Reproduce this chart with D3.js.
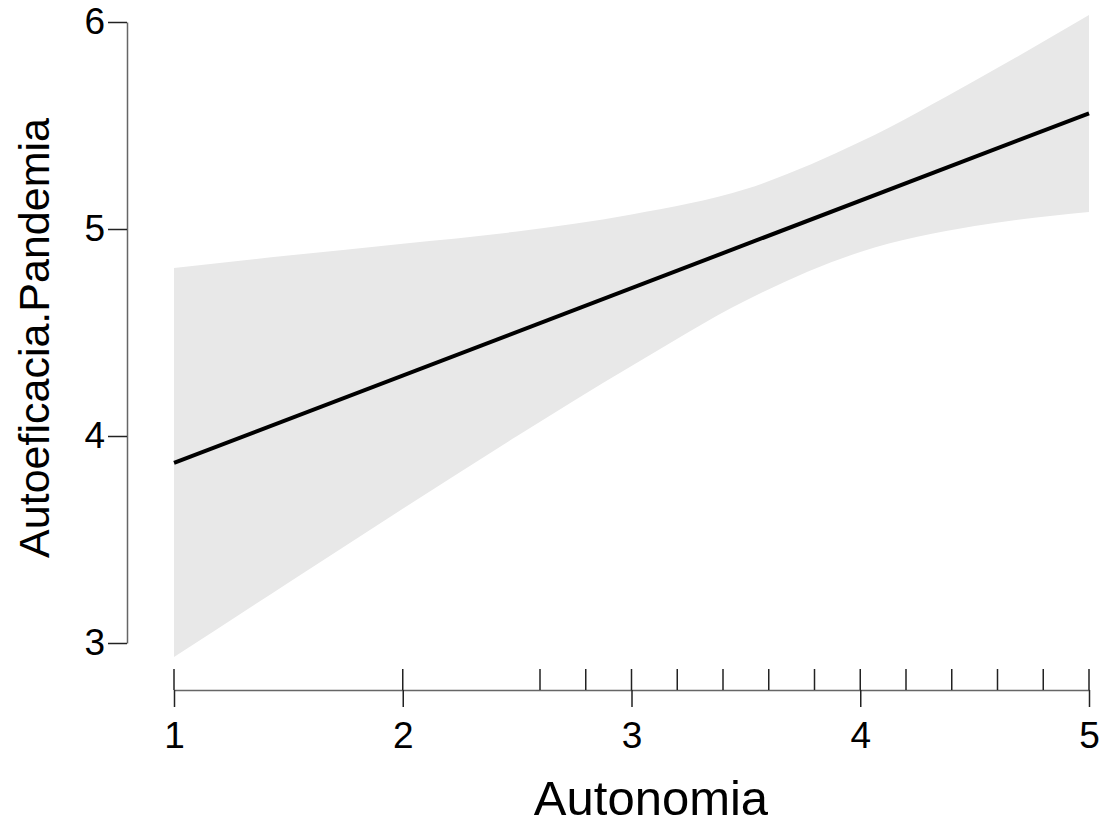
<!DOCTYPE html>
<html>
<head>
<meta charset="utf-8">
<script src="https://cdn.jsdelivr.net/npm/d3@7"></script>
<style>
  html, body { margin: 0; padding: 0; background: #ffffff; }
  svg { display: block; }
</style>
</head>
<body>
<svg id="chart" width="1104" height="826"></svg>
<script>
// ---- data ----
const bandX     = [1, 1.5, 2, 2.5, 3, 3.5, 4, 4.5, 5];
const bandUpper = [4.812, 4.872, 4.929, 4.988, 5.070, 5.193, 5.421, 5.716, 6.034];
const bandLower = [2.932, 3.291, 3.649, 4.000, 4.338, 4.655, 4.889, 5.014, 5.082];
const fitX = [1, 5];
const fitY = [3.870, 5.559];
const rugX = [1, 2, 2.6, 2.8, 3, 3.2, 3.4, 3.6, 3.8, 4, 4.2, 4.4, 4.6, 4.8, 5];
const xTicks = [1, 2, 3, 4, 5];
const yTicks = [3, 4, 5, 6];
const xLabel = "Autonomia";
const yLabel = "Autoeficacia.Pandemia";

const svg = d3.select("#chart");
const font = "'Liberation Sans', Arial, sans-serif";

const x = d3.scaleLinear().domain([1, 5]).range([174, 1089]);
const y = d3.scaleLinear().domain([3, 6]).range([643, 22]);
const axisY = 690;

// confidence band
const band = bandX.map((v, i) => ({ x: v, lo: bandLower[i], hi: bandUpper[i] }));
svg.append("path")
  .datum(band)
  .attr("fill", "#e8e8e8")
  .attr("d", d3.area()
    .x(d => x(d.x))
    .y0(d => y(d.lo))
    .y1(d => y(d.hi))
    .curve(d3.curveMonotoneX));

// fitted line
svg.append("path")
  .datum(fitX.map((v, i) => ({ x: v, y: fitY[i] })))
  .attr("fill", "none")
  .attr("stroke", "#000")
  .attr("stroke-width", 4)
  .attr("d", d3.line().x(d => x(d.x)).y(d => y(d.y)));

// x axis
const gx = svg.append("g")
  .attr("transform", `translate(0,${axisY})`)
  .call(d3.axisBottom(x).tickValues(xTicks).tickFormat(d3.format("d"))
    .tickSize(17).tickSizeOuter(0).tickPadding(15));
gx.select(".domain").attr("stroke", "#666").attr("stroke-width", 1.5);
gx.selectAll(".tick line").attr("stroke", "#222").attr("stroke-width", 1.5);
gx.selectAll(".tick text").attr("font-family", font).attr("font-size", 37).attr("fill", "#000");

// rug
svg.append("g").selectAll("line")
  .data(rugX).join("line")
  .attr("x1", d => x(d)).attr("x2", d => x(d))
  .attr("y1", axisY - 21).attr("y2", axisY)
  .attr("stroke", "#222").attr("stroke-width", 1.5);

// y axis
const gy = svg.append("g")
  .attr("transform", "translate(127,0)")
  .call(d3.axisLeft(y).tickValues(yTicks).tickFormat(d3.format("d"))
    .tickSize(19).tickSizeOuter(0).tickPadding(3));
gy.select(".domain").attr("stroke", "#666").attr("stroke-width", 1.5);
gy.selectAll(".tick line").attr("stroke", "#222").attr("stroke-width", 1.5);
gy.selectAll(".tick text").attr("font-family", font).attr("font-size", 37).attr("fill", "#000");

// axis titles
svg.append("text")
  .attr("x", 651).attr("y", 815)
  .attr("text-anchor", "middle")
  .attr("font-family", font).attr("font-size", 49)
  .text(xLabel);

svg.append("text")
  .attr("transform", "translate(49,338) rotate(-90)")
  .attr("text-anchor", "middle")
  .attr("font-family", font).attr("font-size", 43)
  .text(yLabel);
</script>
</body>
</html>
